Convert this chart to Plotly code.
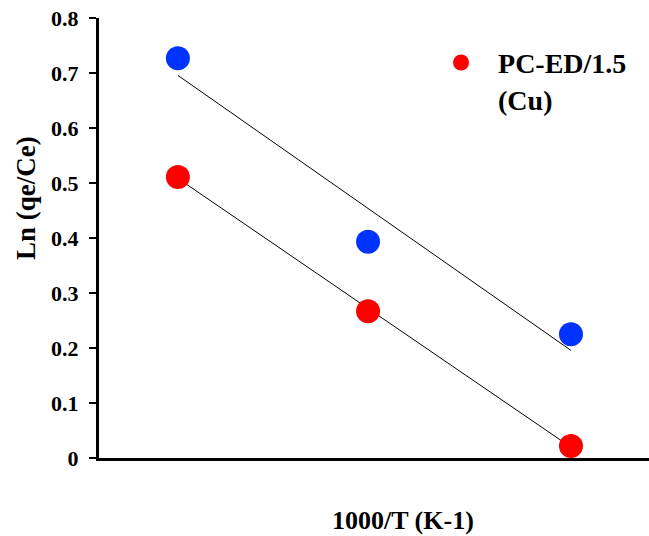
import numpy as np
import plotly.graph_objects as go

# Temperatures (K) and 1000/T values
temps_K = [318, 308, 298]
x_inv_T = [1000.0 / t for t in temps_K]

# Ln(qe/Ce) series
blue_vals = [0.727, 0.393, 0.225]
red_vals = [0.511, 0.267, 0.022]

legend_label = "<b>PC-ED/1.5<br>(Cu)</b>"
x_title = "<b>1000/T (K-1)</b>"
y_title = "<b>Ln (qe/Ce)</b>"
y_ticks = [0, 0.1, 0.2, 0.3, 0.4, 0.5, 0.6, 0.7, 0.8]
y_tick_text = ["0", "0.1", "0.2", "0.3", "0.4", "0.5", "0.6", "0.7", "0.8"]

FONT = "Liberation Serif"

def fit(xs, ys):
    k, b = np.polyfit(xs, ys, 1)
    return [k * x + b for x in xs]

fig = go.Figure()
fig.add_trace(go.Scatter(x=x_inv_T, y=fit(x_inv_T, blue_vals), mode="lines",
                         line=dict(color="black", width=1), showlegend=False, hoverinfo="skip"))
fig.add_trace(go.Scatter(x=x_inv_T, y=fit(x_inv_T, red_vals), mode="lines",
                         line=dict(color="black", width=1), showlegend=False, hoverinfo="skip"))
fig.add_trace(go.Scatter(x=x_inv_T, y=blue_vals, mode="markers",
                         marker=dict(color="#0033FF", size=24), showlegend=False))
fig.add_trace(go.Scatter(x=x_inv_T, y=red_vals, mode="markers", name=legend_label,
                         marker=dict(color="#FF0000", size=24), showlegend=True))

fig.update_layout(
    width=649, height=536,
    margin=dict(l=99, r=0, t=18, b=78),
    plot_bgcolor="white", paper_bgcolor="white",
    font=dict(family=FONT, color="black", size=22),
    showlegend=True,
    legend=dict(x=0.591, y=0.955, xanchor="left", yanchor="top",
                font=dict(family=FONT, size=28, color="black"),
                itemwidth=64, valign="top", bgcolor="rgba(0,0,0,0)",
                itemsizing="trace"),
    xaxis=dict(range=[3.1023, 3.3976], showticklabels=False, ticks="",
               showgrid=False, zeroline=False, showline=True,
               linecolor="black", linewidth=3),
    yaxis=dict(range=[0, 0.8], tickvals=y_ticks, ticktext=["<b>%s</b>" % t for t in y_tick_text],
               ticks="outside", ticklen=7, tickwidth=2, tickcolor="black",
               showgrid=False, zeroline=False, showline=True,
               linecolor="black", linewidth=3,
               tickfont=dict(family=FONT, size=22), ticklabelstandoff=6),
    annotations=[
        dict(text=x_title, xref="paper", yref="paper",
             x=(403 - 99) / 550, y=-(520 - 458) / 440,
             xanchor="center", yanchor="middle", showarrow=False,
             font=dict(family=FONT, size=26, color="black")),
        dict(text=y_title, xref="paper", yref="paper", textangle=-90,
             x=-(99 - 26) / 550, y=(458 - 198) / 440,
             xanchor="center", yanchor="middle", showarrow=False,
             font=dict(family=FONT, size=27, color="black")),
    ],
)

fig.write_html("out.html")
